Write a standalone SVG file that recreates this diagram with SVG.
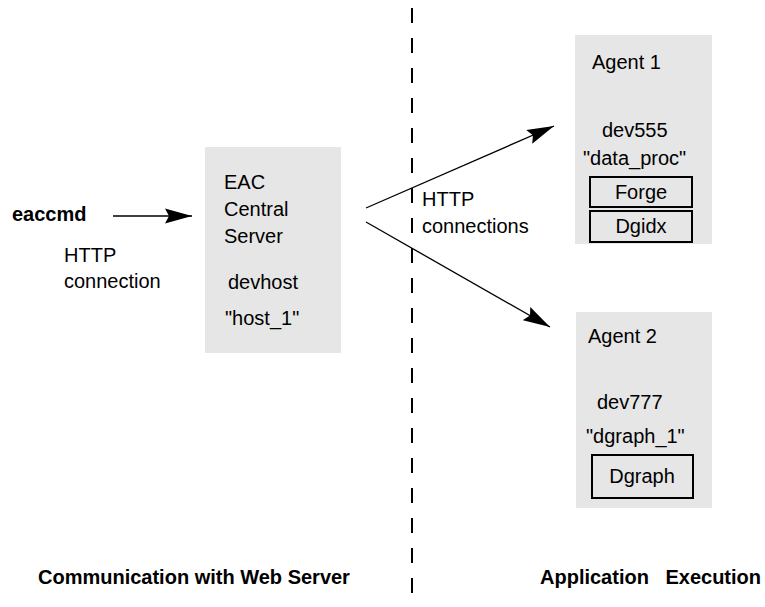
<svg xmlns="http://www.w3.org/2000/svg" width="765" height="607" viewBox="0 0 765 607">
<style>
  text { font-family: "Liberation Sans", Arial, sans-serif; font-size: 20px; fill: #000; }
  .b { font-weight: bold; }
  .mid { text-anchor: middle; }
  .panel { fill: #e6e6e6; stroke: none; }
  .inner { fill: #e6e6e6; stroke: #000; stroke-width: 2; }
  .conn { stroke: #000; stroke-width: 1.3; fill: none; }
  .divider { stroke: #000; stroke-width: 2; stroke-dasharray: 15 15; fill: none; }
</style>
<defs>
  <marker id="arrow" viewBox="0 -8 28 16" refX="27" refY="0" markerWidth="28" markerHeight="16" markerUnits="userSpaceOnUse" orient="auto">
    <path d="M0,-7.5 L27,0 L0,7.5 L4,0 Z" fill="#000"/>
  </marker>
</defs>
<rect width="765" height="607" fill="#fff"/>

<g id="divider">
  <line class="divider" x1="412" y1="8" x2="412" y2="607"/>
</g>

<g id="eaccmd">
  <text class="b" x="12" y="221">eaccmd</text>
</g>

<g id="eac-server">
  <rect class="panel" x="205" y="147" width="136" height="206"/>
  <text x="224" y="189">EAC</text>
  <text x="224" y="216">Central</text>
  <text x="224" y="243">Server</text>
  <text x="228" y="289">devhost</text>
  <text x="225" y="325">"host_1"</text>
</g>

<g id="agent1">
  <rect class="panel" x="575" y="35" width="137" height="209"/>
  <text x="592" y="69">Agent 1</text>
  <text x="602" y="137">dev555</text>
  <text x="583" y="165">"data_proc"</text>
  <g id="forge">
    <rect class="inner" x="590" y="177" width="102" height="30"/>
    <text class="mid" x="641" y="199">Forge</text>
  </g>
  <g id="dgidx">
    <rect class="inner" x="590" y="211" width="102" height="31"/>
    <text class="mid" x="641" y="233">Dgidx</text>
  </g>
</g>

<g id="agent2">
  <rect class="panel" x="576" y="312" width="136" height="196"/>
  <text x="588" y="343">Agent 2</text>
  <text x="597" y="409">dev777</text>
  <text x="586" y="443">"dgraph_1"</text>
  <g id="dgraph">
    <rect class="inner" x="592" y="455" width="101" height="43"/>
    <text class="mid" x="642" y="483">Dgraph</text>
  </g>
</g>

<g id="connectors">
  <line class="conn" x1="113" y1="216" x2="192" y2="216" marker-end="url(#arrow)"/>
  <line class="conn" x1="366" y1="208" x2="554" y2="126" marker-end="url(#arrow)"/>
  <line class="conn" x1="366" y1="222" x2="550" y2="327" marker-end="url(#arrow)"/>
  <text x="64" y="262">HTTP</text>
  <text x="64" y="288">connection</text>
  <text x="422" y="206">HTTP</text>
  <text x="422" y="233">connections</text>
</g>

<g id="labels">
  <text class="b" x="38" y="584">Communication with Web Server</text>
  <text class="b" x="540" y="584" word-spacing="11">Application Execution</text>
</g>
</svg>
